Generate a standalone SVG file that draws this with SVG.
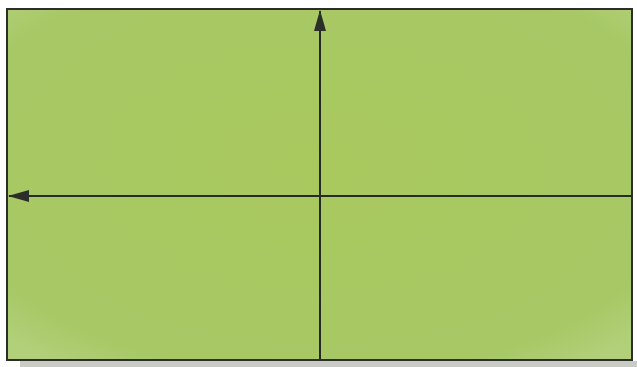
<svg xmlns="http://www.w3.org/2000/svg" width="637" height="367" viewBox="0 0 637 367">
<defs>
<marker id="ah" viewBox="0 0 21 12" refX="20" refY="6" markerWidth="21" markerHeight="12" markerUnits="userSpaceOnUse" orient="auto">
<path d="M0,0 L21,6 L0,12 z" fill="#2a2f2a"/>
</marker>
<style>
.axis{stroke:#262b26;stroke-width:2;fill:none;marker-end:url(#ah)}
</style>
<radialGradient id="bg" cx="0.5" cy="0.45" r="0.7">
<stop offset="0" stop-color="#a9c95e"/>
<stop offset="0.85" stop-color="#a7c865"/>
<stop offset="1" stop-color="#b2d07a"/>
</radialGradient>
</defs>
<rect x="0" y="0" width="637" height="367" fill="#ffffff"/>
<rect x="20" y="361" width="617" height="6" fill="#c9cbc6"/>
<g id="board">
<rect x="7" y="9" width="625" height="351" fill="url(#bg)" stroke="#2b2e2b" stroke-width="2"/>
</g>
<g id="connectors">
<line class="axis" x1="320" y1="360" x2="320" y2="11"/>
<line class="axis" x1="632" y1="196" x2="9" y2="196"/>
</g>
</svg>
